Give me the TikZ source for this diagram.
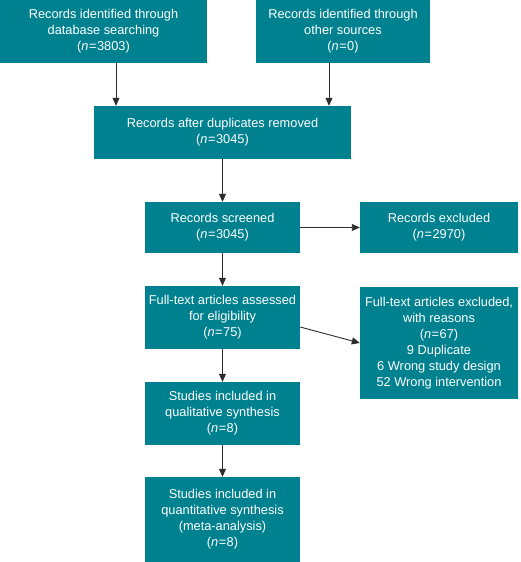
\documentclass[tikz,border=0pt]{standalone}
\usepackage{fontspec}
\setmainfont{Liberation Sans}
\usetikzlibrary{arrows.meta,calc}
\definecolor{boxteal}{RGB}{0,129,143}
\definecolor{arrgray}{RGB}{45,45,45}
\newcommand{\nn}[1]{(\textit{n}\kern0.5pt=\kern0.5pt#1)}
\tikzset{
  box/.style={fill=boxteal, draw=none, text=white, align=center, inner sep=0pt,
    font=\fontsize{12.8}{16}\selectfont},
  arr/.style={draw=arrgray, line width=0.9pt, -{Triangle[length=8pt,width=7pt]}}
}
\begin{document}
\begin{tikzpicture}[x=1pt,y=1pt]
\useasboundingbox (0,0) rectangle (520,562);
% boxes (image px converted: y = 562 - ypx)
\node[box, minimum width=207pt, minimum height=63pt] (A) at (103.5,530.5)
  {Records identified through\\database searching\\\nn{3803}};
\node[box, minimum width=174pt, minimum height=63pt] (B) at (343,530.5)
  {Records identified through\\other sources\\\nn{0}};
\node[box, minimum width=257pt, minimum height=53pt] (C) at (222.5,429.5)
  {Records after duplicates removed\\\nn{3045}};
\node[box, minimum width=155pt, minimum height=51pt] (D) at (222.5,334.5)
  {Records screened\\\nn{3045}};
\node[box, minimum width=158pt, minimum height=51pt] (E) at (439,334.5)
  {Records excluded\\\nn{2970}};
\node[box, minimum width=155pt, minimum height=63pt] (F) at (222.5,244.5)
  {Full-text articles assessed\\for eligibility\\\nn{75}};
\node[box, minimum width=158pt, minimum height=112pt] (G) at (439,219)
  {Full-text articles excluded,\\with reasons\\\nn{67}\\9 Duplicate\\6 Wrong study design\\52 Wrong intervention};
\node[box, minimum width=155pt, minimum height=63pt] (H) at (222.5,148.5)
  {Studies included in\\qualitative synthesis\\\nn{8}};
\node[box, minimum width=155pt, minimum height=85pt] (I) at (222.5,42.5)
  {Studies included in\\quantitative synthesis\\(meta-analysis)\\\nn{8}};
% connectors
\draw[arr] ([xshift=12.5pt]A.south) -- ([xshift=12.5pt]A.south |- C.north);
\draw[arr] ([xshift=-14pt]B.south) -- ([xshift=-14pt]B.south |- C.north);
\draw[arr] (C.south) -- (D.north);
\draw[arr] (D.east) -- (E.west);
\draw[arr] (D.south) -- (F.north);
\draw[arr] ([yshift=-9.5pt]F.east) -- (G.west);
\draw[arr] (F.south) -- (H.north);
\draw[arr] (H.south) -- (I.north);
\end{tikzpicture}
\end{document}
